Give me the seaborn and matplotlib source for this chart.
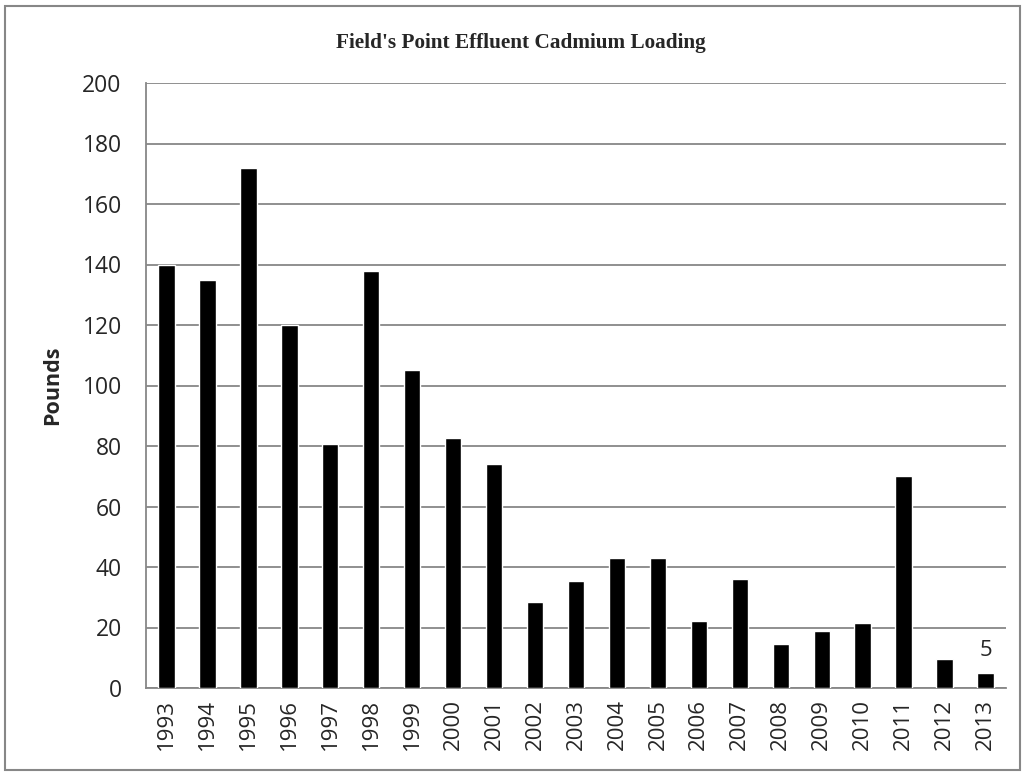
import pandas as pd
import matplotlib.pyplot as plt
import seaborn as sns
from matplotlib.patches import Rectangle

# Data
years = [str(y) for y in range(1993, 2014)]
pounds = [140, 135, 172, 120, 80.5, 138, 105, 82.5, 74, 28.5, 35.5,
          43, 43, 22, 36, 14.5, 19, 21.5, 70, 9.5, 5]

df = pd.DataFrame({"year": years, "pounds": pounds})

sns.set_style("white")
plt.rcParams["font.family"] = ["Open Sans", "DejaVu Sans"]

fig = plt.figure(figsize=(10.26, 7.74), dpi=100)
ax = fig.add_axes([146 / 1026, 1 - 688 / 774, 860 / 1026, 605 / 774])

sns.barplot(data=df, x="year", y="pounds", color="black", width=0.4,
            saturation=1, ax=ax, zorder=3)

ax.set_ylim(0, 200)
ax.set_xlim(-0.5, len(years) - 0.5)
ax.set_yticks(range(0, 201, 20))
ax.yaxis.grid(True, color="#878787", linewidth=1.3, zorder=0)
ax.set_axisbelow(True)

for side in ["top", "right"]:
    ax.spines[side].set_visible(False)
for side in ["left", "bottom"]:
    ax.spines[side].set_color("#878787")
    ax.spines[side].set_linewidth(1.3)

# category boundary ticks on x, outward ticks on y
ax.set_xticks([i - 0.5 for i in range(len(years) + 1)], minor=True)
ax.tick_params(axis="x", which="major", length=0, pad=8, labelsize=16,
               rotation=90)
ax.tick_params(axis="x", which="minor", length=7, width=1.3,
               color="#878787", direction="out")
ax.tick_params(axis="y", length=6.5, width=1.3, color="#878787",
               direction="out", labelsize=16.5, pad=11)

ax.set_xlabel("")
ax.set_ylabel("Pounds", fontsize=15.5, fontweight="bold", labelpad=14)

# data label on last bar
ax.text(len(years) - 1, pounds[-1] + 4, "5", ha="center", va="bottom",
        fontsize=16)

fig.text(0.508, 1 - 43 / 774, "Field's Point Effluent Cadmium Loading",
         ha="center", va="center", fontsize=15.3, fontweight="bold",
         family="Liberation Serif")

# outer chart border
fig.patches.append(Rectangle((5 / 1026, 4 / 774), 1015 / 1026, 764 / 774,
                             transform=fig.transFigure, fill=False,
                             edgecolor="#878787", linewidth=1.5))

plt.savefig("out.png", dpi=100)
